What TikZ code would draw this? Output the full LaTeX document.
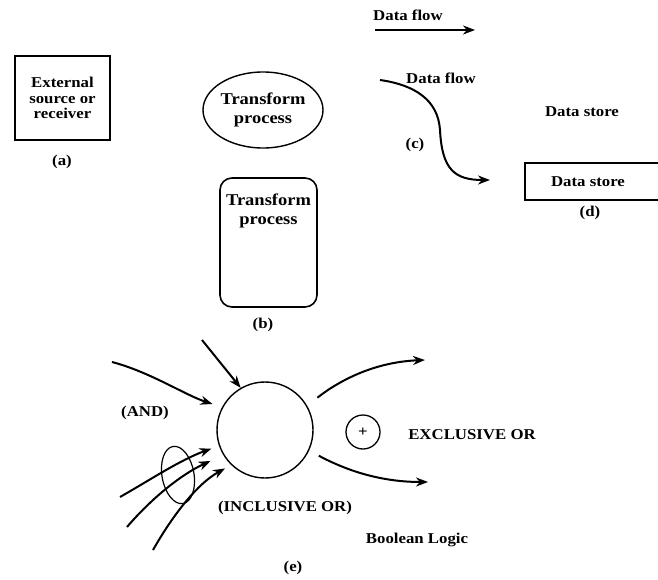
\documentclass[tikz,border=0pt]{standalone}
\usepackage{fontspec}
\setmainfont{Liberation Serif}[FakeStretch=1.12]
\usepackage{tikz}
\usetikzlibrary{shapes.geometric, arrows.meta}

\begin{document}
\begin{tikzpicture}[
			x=1pt, y=1pt,
			txt/.style={
				font=\fontsize{15}{15.5}\selectfont\bfseries, inner sep=0pt, align=center
			},
			bigtxt/.style={
				font=\fontsize{16.5}{19}\selectfont\bfseries, inner sep=0pt, align=center
			},
			extbox/.style={
				draw, line width=1.6pt, txt, minimum width=95pt, minimum height=84pt
			},
			process/.style={
				ellipse, draw, line width=1.4pt, bigtxt, minimum width=100pt, minimum height=76pt
			},
			procbox/.style={
				draw, rounded corners=12pt, line width=1.6pt,
				minimum width=97pt, minimum height=129pt
			},
			bubble/.style={
				circle, draw, line width=1.4pt, minimum size=96pt
			},
			xorsym/.style={
				circle, draw, line width=1.3pt, minimum size=34pt, inner sep=0pt,
				font=\fontsize{15}{15}\selectfont\bfseries
			},
			loop/.style={
				ellipse, draw, line width=1.2pt, minimum width=32pt, minimum height=58pt
			},
			flow/.style={->, >={Stealth[length=12pt, width=9pt]}, line width=2pt}
			]
			
			\useasboundingbox (0,0) rectangle (658,-580);
			
			% (a) external entity
			\node[extbox] (ext) at (62.5,-98) {External\\source or\\receiver};
			\node[txt] (capa) at (62,-162) {(a)};
			
			% (b) processes
			\node[process] (proc) at (263,-110) {Transform\\process};
			\node[procbox] (procb) at (268.5,-242.5) {};
			\node[bigtxt, below=16pt] (procbtxt) at (procb.north) {Transform\\process};
			\node[txt] (capb) at (263,-325) {(b)};
			
			% (c) data flows
			\node[txt] (dflabel) at (408,-15) {Data flow};
			\coordinate (df0) at (375,-30);
			\coordinate (df1) at (475,-30);
			\draw[flow] (df0) -- (df1);
			
			\node[txt] (dclabel) at (441,-78) {Data flow};
			\coordinate (dc0) at (380,-80);
			\coordinate (dc1) at (490,-180);
			\draw[flow] (dc0) .. controls (415,-85) and (438,-100) .. (440,-130)
			.. controls (442,-170) and (455,-180) .. (dc1);
			\node[txt] (capc) at (415,-145) {(c)};
			
			% (d) data store
			\node[txt] (storelabel) at (582,-112) {Data store};
			\node[txt] (store) at (588,-182) {Data store};
			\draw[line width=1.6pt] (658,-163) -| (525,-200) -- (658,-200);
			\node[txt] (capd) at (590,-213) {(d)};
			
			% (e) boolean logic
			\node[bubble] (bigc) at (265,-430) {};
			
			\coordinate (top0) at (202,-340);
			\draw[flow] (top0) -- (bigc.120);
			
			\coordinate (and0) at (112,-362);
			\draw[flow, shorten >=10pt] (and0) .. controls (150,-372) and (185,-395) .. (bigc.152);
			\node[txt] (andlabel) at (145,-413) {(AND)};
			
			\coordinate (or1) at (120,-497);
			\coordinate (or2) at (127,-527);
			\coordinate (or3) at (153,-550);
			\draw[flow, shorten >=8pt] (or1) .. controls (150,-480) and (180,-460) .. (bigc.199);
			\draw[flow, shorten >=14pt] (or2) .. controls (150,-500) and (180,-475) .. (bigc.211);
			\draw[flow, shorten >=7pt] (or3) .. controls (170,-520) and (195,-485) .. (bigc.226);
			\node[loop, rotate=10] (orloop) at (178,-475) {};
			\node[txt] (orlabel) at (285,-508) {(INCLUSIVE OR)};
			
			\coordinate (xo1) at (425,-360);
			\coordinate (xo2) at (428,-482);
			\draw[flow, shorten <=13pt] (bigc.30) .. controls (340,-380) and (375,-362) .. (xo1);
			\draw[flow, shorten <=11pt] (bigc.-25) .. controls (340,-467) and (375,-482) .. (xo2);
			\node[xorsym] (xor) at (363,-432) {+};
			\node[txt] (xorlabel) at (472,-435) {EXCLUSIVE OR};
			
			\node[txt] (boollabel) at (417,-540) {Boolean Logic};
			\node[txt] (cape) at (293,-568) {(e)};
			
		\end{tikzpicture}
\end{document}
